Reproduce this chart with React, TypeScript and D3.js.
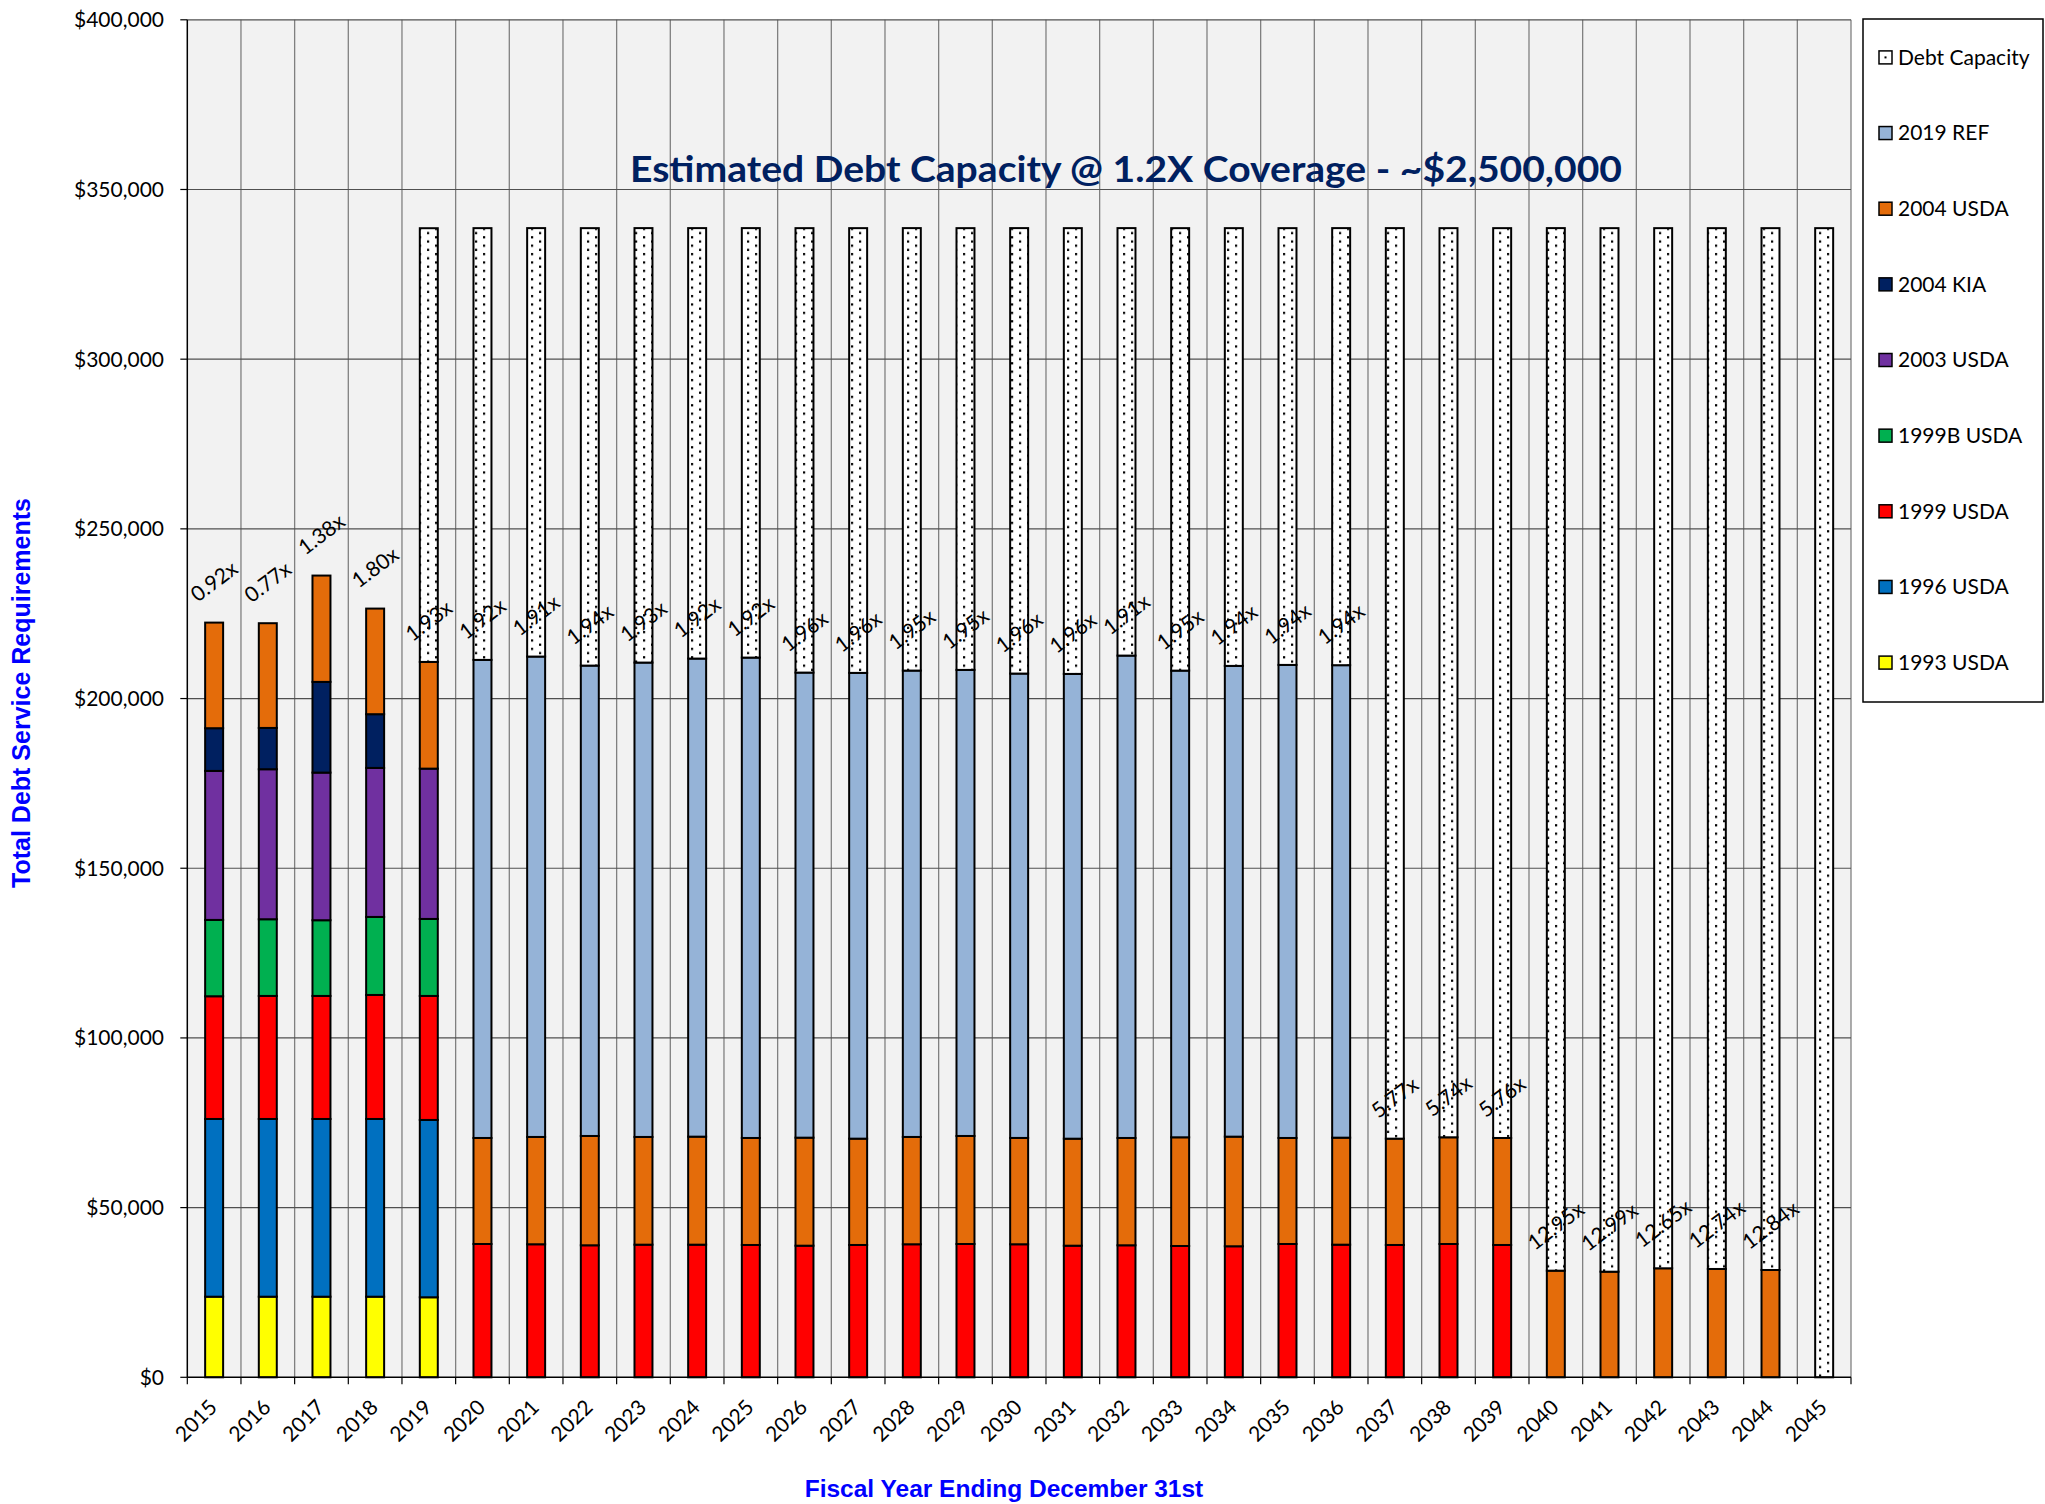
import { useEffect, useRef } from "react";
import * as d3 from "d3";

const years = [
  "2015", "2016", "2017", "2018", "2019", "2020", "2021", "2022", "2023", "2024",
  "2025", "2026", "2027", "2028", "2029", "2030", "2031", "2032", "2033", "2034",
  "2035", "2036", "2037", "2038", "2039", "2040", "2041", "2042", "2043", "2044", "2045",
];

// debt service by issue, one value per fiscal year
const usda1993 = [23750, 23750, 23750, 23750, 23580, 0, 0, 0, 0, 0, 0, 0, 0, 0, 0, 0, 0, 0, 0, 0, 0, 0, 0, 0, 0, 0, 0, 0, 0, 0, 0];
const usda1996 = [52370, 52370, 52370, 52370, 52250, 0, 0, 0, 0, 0, 0, 0, 0, 0, 0, 0, 0, 0, 0, 0, 0, 0, 0, 0, 0, 0, 0, 0, 0, 0, 0];
const usda1999 = [
  36160, 36250, 36250, 36540, 36540, 39280, 39200, 38900, 39080, 39080, 38990, 38780, 38990, 39200, 39280,
  39200, 38780, 38900, 38690, 38610, 39280, 39080, 38990, 39280, 38990, 0, 0, 0, 0, 0, 0,
];
const usda1999B = [22490, 22600, 22310, 22990, 22690, 0, 0, 0, 0, 0, 0, 0, 0, 0, 0, 0, 0, 0, 0, 0, 0, 0, 0, 0, 0, 0, 0, 0, 0, 0, 0];
const usda2003 = [43910, 44200, 43500, 43910, 44290, 0, 0, 0, 0, 0, 0, 0, 0, 0, 0, 0, 0, 0, 0, 0, 0, 0, 0, 0, 0, 0, 0, 0, 0, 0, 0];
const kia2004 = [12580, 12170, 26730, 15830, 0, 0, 0, 0, 0, 0, 0, 0, 0, 0, 0, 0, 0, 0, 0, 0, 0, 0, 0, 0, 0, 0, 0, 0, 0, 0, 0];
const usda2004 = [
  31120, 30860, 31330, 31120, 31440, 31240, 31620, 32210, 31740, 31830, 31530, 31830, 31330, 31620, 31830,
  31330, 31530, 31620, 32030, 32300, 31240, 31530, 31330, 31440, 31530, 31420, 31120, 32120, 31920, 31620, 0,
];
const ref2019 = [
  0, 0, 0, 0, 0, 140870, 141550, 138600, 139780, 140870, 141550, 137040, 137240, 137420, 137330,
  136830, 136950, 142140, 137510, 138710, 139390, 139220, 0, 0, 0, 0, 0, 0, 0, 0, 0,
];
const debtCapacity = [
  0, 0, 0, 0, 127800, 127220, 126250, 128900, 128020, 126840, 126550, 130960, 131050, 130380, 130170,
  131260, 131350, 125960, 130380, 128990, 128700, 128790, 268300, 267890, 268090, 307200, 307490, 306490,
  306690, 306990, 338610,
];

const coverage = [
  "0.92x", "0.77x", "1.38x", "1.80x", "1.93x", "1.92x", "1.91x", "1.94x", "1.93x", "1.92x",
  "1.92x", "1.96x", "1.96x", "1.95x", "1.95x", "1.96x", "1.96x", "1.91x", "1.95x", "1.94x",
  "1.94x", "1.94x", "5.77x", "5.74x", "5.76x", "12.95x", "12.99x", "12.65x", "12.74x", "12.84x", "",
];

const seriesNames = [
  "1993 USDA", "1996 USDA", "1999 USDA", "1999B USDA", "2003 USDA",
  "2004 KIA", "2004 USDA", "2019 REF", "Debt Capacity",
];
const seriesData = [usda1993, usda1996, usda1999, usda1999B, usda2003, kia2004, usda2004, ref2019, debtCapacity];
const seriesColors = [
  "#FFFF00", "#0070C0", "#FF0000", "#00B050", "#7030A0",
  "#002060", "#E46C0A", "#95B3D7", "url(#dots)",
];

const yTicks = [0, 50000, 100000, 150000, 200000, 250000, 300000, 350000, 400000];

const W = 2045;
const H = 1504;
const plot = { left: 187.3, right: 1851, top: 19.8, bottom: 1377.3 };
const LATO = "Lato, 'Noto Sans', sans-serif";
const ARIAL = "'Liberation Sans', Arial, sans-serif";

// rough Lato advance widths, to place the rotated ratio labels above the stack
const charW = (c: string) => (c === "." ? 0.27 : c === "x" ? 0.5 : 0.58);
const textW = (s: string, fs: number) => s.split("").reduce((a, c) => a + charW(c) * fs, 0);

const DebtChart = () => {
  const svgRef = useRef<SVGSVGElement>(null);

  useEffect(() => {
    if (!svgRef.current) return;
    const svg = d3.select(svgRef.current);
    svg.selectAll("*").remove();

    const x = d3
      .scaleBand<string>()
      .domain(years)
      .range([plot.left, plot.right])
      .paddingInner(0.665)
      .paddingOuter(0.3325);
    const y = d3.scaleLinear().domain([0, 400000]).range([plot.bottom, plot.top]);
    const step = x.step();

    const defs = svg.append("defs");
    const pat = defs
      .append("pattern")
      .attr("id", "dots")
      .attr("patternUnits", "userSpaceOnUse")
      .attr("width", 16)
      .attr("height", 8.4);
    pat.append("rect").attr("width", 16).attr("height", 8.4).attr("fill", "#fff");
    pat.append("rect").attr("x", 3).attr("y", 1).attr("width", 2.2).attr("height", 2.2).attr("fill", "#000");
    pat.append("rect").attr("x", 11).attr("y", 5.2).attr("width", 2.2).attr("height", 2.2).attr("fill", "#000");

    // plot area
    svg
      .append("rect")
      .attr("x", plot.left)
      .attr("y", plot.top)
      .attr("width", plot.right - plot.left)
      .attr("height", plot.bottom - plot.top)
      .attr("fill", "#f2f2f2");

    const bounds = d3.range(years.length + 1).map((i) => plot.left + i * step);

    svg
      .append("g")
      .selectAll("line")
      .data(bounds.slice(1))
      .join("line")
      .attr("x1", (d) => d)
      .attr("x2", (d) => d)
      .attr("y1", plot.top)
      .attr("y2", plot.bottom)
      .attr("stroke", "#808080")
      .attr("stroke-width", 1.3);

    svg
      .append("g")
      .selectAll("line")
      .data(yTicks.slice(1))
      .join("line")
      .attr("x1", plot.left)
      .attr("x2", plot.right)
      .attr("y1", (d) => y(d))
      .attr("y2", (d) => y(d))
      .attr("stroke", "#505050")
      .attr("stroke-width", 1.2);

    // stacked bars
    const rows = years.map((yr, i) => {
      const r: Record<string, number | string> = { year: yr };
      seriesNames.forEach((n, k) => (r[n] = seriesData[k][i]));
      return r;
    });
    const stack = d3.stack<Record<string, number | string>>().keys(seriesNames)(rows as any);

    stack.forEach((layer, k) => {
      svg
        .append("g")
        .selectAll("rect")
        .data(layer.filter((d) => d[1] - d[0] > 0))
        .join("rect")
        .attr("x", (d) => x(d.data.year as string)!)
        .attr("width", x.bandwidth())
        .attr("y", (d) => y(d[1]))
        .attr("height", (d) => y(d[0]) - y(d[1]))
        .attr("fill", seriesColors[k])
        .attr("stroke", "#000")
        .attr("stroke-width", 2);
    });

    // axes
    svg
      .append("line")
      .attr("x1", plot.left)
      .attr("x2", plot.left)
      .attr("y1", plot.top)
      .attr("y2", plot.bottom)
      .attr("stroke", "#000")
      .attr("stroke-width", 1.5);
    svg
      .append("line")
      .attr("x1", plot.left)
      .attr("x2", plot.right)
      .attr("y1", plot.bottom)
      .attr("y2", plot.bottom)
      .attr("stroke", "#000")
      .attr("stroke-width", 1.5);

    svg
      .append("g")
      .selectAll("line")
      .data(yTicks)
      .join("line")
      .attr("x1", plot.left - 7)
      .attr("x2", plot.left)
      .attr("y1", (d) => y(d))
      .attr("y2", (d) => y(d))
      .attr("stroke", "#000")
      .attr("stroke-width", 1.2);

    svg
      .append("g")
      .selectAll("line")
      .data(bounds)
      .join("line")
      .attr("x1", (d) => d)
      .attr("x2", (d) => d)
      .attr("y1", plot.bottom)
      .attr("y2", plot.bottom + 7)
      .attr("stroke", "#000")
      .attr("stroke-width", 1.2);

    svg
      .append("g")
      .selectAll("text")
      .data(yTicks)
      .join("text")
      .attr("x", 164)
      .attr("y", (d) => y(d))
      .attr("dy", "0.35em")
      .attr("text-anchor", "end")
      .style("font-family", LATO)
      .style("font-size", "21px")
      .text((d) => "$" + d3.format(",")(d));

    svg
      .append("g")
      .selectAll("text")
      .data(years)
      .join("text")
      .attr("text-anchor", "end")
      .attr("dy", "0.35em")
      .attr("transform", (d) => `translate(${x(d)! + x.bandwidth() / 2 - 1},${plot.bottom + 26}) rotate(-45)`)
      .style("font-family", LATO)
      .style("font-size", "21px")
      .text((d) => d);

    // coverage ratio labels
    const fs = 21;
    const ang = 37;
    const rad = (ang * Math.PI) / 180;
    svg
      .append("g")
      .selectAll("text")
      .data(years.map((yr, i) => ({ yr, i, lab: coverage[i] })).filter((d) => d.lab))
      .join("text")
      .attr("text-anchor", "middle")
      .attr("dy", "0.35em")
      .attr("transform", (d) => {
        const top = d3.sum(seriesData.slice(0, 8), (s) => s[d.i]);
        const w = textW(d.lab, fs);
        const bh = w * Math.sin(rad) + fs * Math.cos(rad);
        const cx = x(d.yr)! + x.bandwidth() / 2;
        const cy = y(top) - 17 - bh / 2;
        return `translate(${cx},${cy}) rotate(${-ang})`;
      })
      .style("font-family", LATO)
      .style("font-size", `${fs}px`)
      .text((d) => d.lab);

    // title
    svg
      .append("text")
      .attr("x", 1126)
      .attr("y", 182)
      .attr("text-anchor", "middle")
      .attr("fill", "#002060")
      .attr("textLength", 992)
      .attr("lengthAdjust", "spacingAndGlyphs")
      .style("font-family", LATO)
      .style("font-weight", "bold")
      .style("font-size", "37px")
      .text("Estimated Debt Capacity @ 1.2X Coverage - ~$2,500,000");

    svg
      .append("text")
      .attr("transform", "translate(21,693) rotate(-90)")
      .attr("text-anchor", "middle")
      .attr("dy", "0.35em")
      .attr("fill", "#0000FF")
      .style("font-family", ARIAL)
      .style("font-weight", "bold")
      .style("font-size", "25px")
      .text("Total Debt Service Requirements");

    svg
      .append("text")
      .attr("x", 1004)
      .attr("y", 1488)
      .attr("text-anchor", "middle")
      .attr("dy", "0.35em")
      .attr("fill", "#0000FF")
      .style("font-family", ARIAL)
      .style("font-weight", "bold")
      .style("font-size", "24.5px")
      .text("Fiscal Year Ending December 31st");

    // legend
    const lg = svg.append("g");
    lg.append("rect")
      .attr("x", 1863)
      .attr("y", 19)
      .attr("width", 180)
      .attr("height", 683)
      .attr("fill", "#fff")
      .attr("stroke", "#000")
      .attr("stroke-width", 1.5);

    const legendOrder = d3.range(seriesNames.length).reverse();
    const item = lg
      .selectAll("g.item")
      .data(legendOrder)
      .join("g")
      .attr("class", "item")
      .attr("transform", (_, j) => `translate(1879,${57.4 + j * 75.65})`);
    item
      .append("rect")
      .attr("x", 0)
      .attr("y", -6.5)
      .attr("width", 13)
      .attr("height", 13)
      .attr("fill", (k) => (k === 8 ? "#fff" : seriesColors[k]))
      .attr("stroke", "#000")
      .attr("stroke-width", 1.5);
    item
      .filter((k) => k === 8)
      .append("rect")
      .attr("x", 5.5)
      .attr("y", -1)
      .attr("width", 2)
      .attr("height", 2)
      .attr("fill", "#000");
    item
      .append("text")
      .attr("x", 19)
      .attr("dy", "0.35em")
      .style("font-family", LATO)
      .style("font-size", "21px")
      .text((k) => seriesNames[k]);
  }, []);

  return (
    <svg
      ref={svgRef}
      width={W}
      height={H}
      style={{ position: "absolute", left: 0, top: 0, background: "#fff" }}
    />
  );
};

export default function App() {
  return <DebtChart />;
}
